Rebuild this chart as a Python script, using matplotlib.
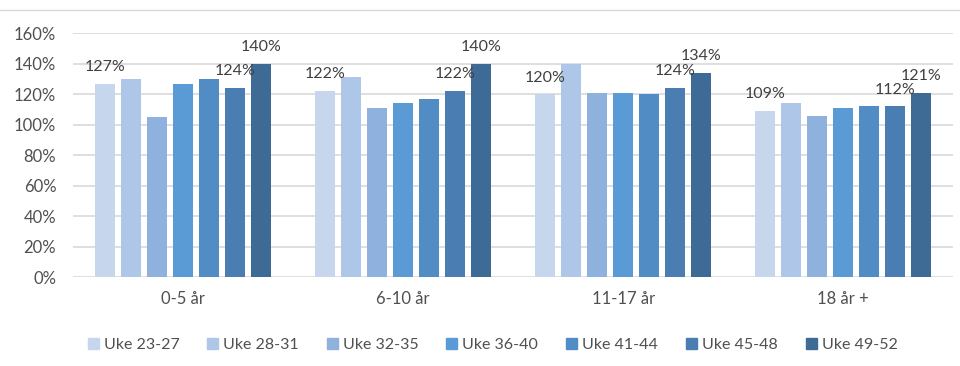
import numpy as np
import matplotlib
matplotlib.use("Agg")
import matplotlib.pyplot as plt
from matplotlib.lines import Line2D

plt.rcParams['font.family'] = ['Lato', 'DejaVu Sans']

groups = ["0-5 år", "6-10 år", "11-17 år", "18 år +"]
series = ["Uke 23-27", "Uke 28-31", "Uke 32-35", "Uke 36-40",
          "Uke 41-44", "Uke 45-48", "Uke 49-52"]

# values in percent, one list per week range (order: 0-5, 6-10, 11-17, 18+)
uke_23_27 = [127, 122, 120, 109]
uke_28_31 = [130, 131, 140, 114]
uke_32_35 = [105, 111, 121, 106]
uke_36_40 = [127, 114, 121, 111]
uke_41_44 = [130, 117, 120, 112]
uke_45_48 = [124, 122, 124, 112]
uke_49_52 = [140, 140, 134, 121]

data = [uke_23_27, uke_28_31, uke_32_35, uke_36_40, uke_41_44, uke_45_48, uke_49_52]
labelled = [0, 5, 6]  # series that show data labels

colors = ["#c6d6ec", "#aec6e7", "#8eb2dd", "#5b9bd5",
          "#528cc5", "#4a7db1", "#3e6a96"]

fig = plt.figure(figsize=(9.6, 3.66), dpi=100)
ax = fig.add_axes([0.076, 0.243, 0.917, 0.666])

x = np.arange(len(groups))
step = 0.118
width = 0.091
for i, vals in enumerate(data):
    bars = ax.bar(x + (i - 3) * step, vals, width, color=colors[i], zorder=2)
    if i in labelled:
        ax.bar_label(bars, labels=["%d%%" % v for v in vals], padding=7,
                     fontsize=11.5, color="#404040")

ax.set_xlim(-0.5, len(groups) - 0.5)
ax.set_ylim(0, 160)
ax.set_yticks(range(0, 161, 20))
ax.set_yticklabels(["%d%%" % t for t in range(0, 161, 20)])
ax.set_xticks(x)
ax.set_xticklabels(groups)
ax.grid(axis="y", color="#d9d9d9", linewidth=1.2, zorder=0)
ax.tick_params(axis="both", length=0, labelsize=12, labelcolor="#505050")
ax.tick_params(axis="y", pad=12)
ax.tick_params(axis="x", pad=10)
for s in ax.spines.values():
    s.set_visible(False)

handles = [plt.Rectangle((0, 0), 1, 1, color=c) for c in colors]
fig.legend(handles, series, loc="center", bbox_to_anchor=(0.513, 0.057),
           ncol=7, frameon=False, fontsize=11.5, labelcolor="#505050",
           handlelength=0.7, handleheight=0.7, handletextpad=0.3,
           columnspacing=1.75)

fig.add_artist(Line2D([0, 1], [1 - 10 / 366, 1 - 10 / 366],
                      transform=fig.transFigure, color="#d9d9d9", linewidth=1))

fig.savefig("out.png", dpi=100)
